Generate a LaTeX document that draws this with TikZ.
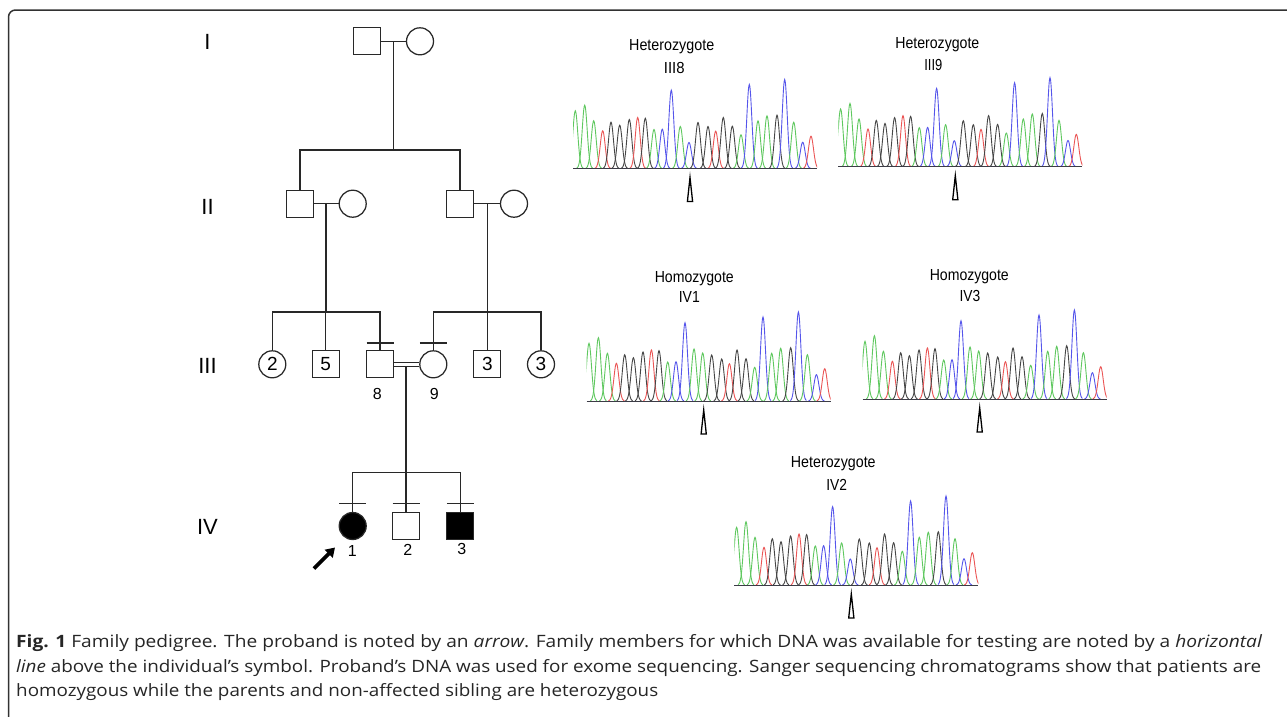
\documentclass[tikz,border=0pt]{standalone}
\usepackage{fontspec}
\usepackage{graphicx}
\setmainfont{Open Sans}
\newfontfamily\arialf{Liberation Sans}
\usetikzlibrary{arrows.meta,calc}
\definecolor{pedc}{RGB}{40,40,40}
\definecolor{framec}{RGB}{50,50,50}
\definecolor{cg}{RGB}{95,200,95}
\definecolor{cb}{RGB}{85,85,235}
\definecolor{cr}{RGB}{235,85,85}
\definecolor{ck}{RGB}{70,70,70}
\definecolor{basec}{RGB}{60,60,70}
\newsavebox\fitbox
\newcommand\hfit[2]{\sbox\fitbox{#2}\pgfmathsetmacro\fitfac{#1/\wd\fitbox}\scalebox{\fitfac}[1]{\usebox\fitbox}}
\newcommand\hetlist{2.3/57.7/cg, 11.7/63.3/cg, 20.7/47.7/cg, 29.7/37.7/cr, 38/46.3/ck, 46.7/43.3/ck, 56.3/49/ck, 64.7/51/cr, 72.3/50.3/ck, 81/39/cg, 89.3/39.3/cb, 98.3/78.3/cb, 107.3/42/cg, 116/26/cb, 125/46/ck, 135/42/ck, 142.7/37.3/cr, 150.3/51/ck, 159.3/42.3/ck, 168/33.7/cg, 176.3/84/cb, 185/47.7/cg, 194/52.7/cg, 204/53.3/ck, 211.7/89/cb, 220.7/46.3/cg, 229.7/26.3/cb, 238/32.3/cr}
\newcommand\homlist{2.3/57.7/cg, 11.7/63.3/cg, 20.7/47.7/cg, 29.7/37.7/cr, 38/46.3/ck, 46.7/43.3/ck, 56.3/49/ck, 64.7/51/cr, 72.3/50.3/ck, 81/39/cg, 89.3/39.3/cb, 98.3/78.3/cb, 107.3/52/cg, 116/48/cg, 125/46/ck, 135/42/ck, 142.7/37.3/cr, 150.3/51/ck, 159.3/42.3/ck, 168/33.7/cg, 176.3/84/cb, 185/47.7/cg, 194/52.7/cg, 204/53.3/ck, 211.7/89/cb, 220.7/46.3/cg, 229.7/26.3/cb, 238/32.3/cr}
% #1 left, #2 baseline, #3 list
\newcommand\chromdraw[3]{%
  \begin{scope}[shift={(#1,#2)}]
    \begin{scope}
      \clip (0,3) rectangle (244,-100);
      \foreach \px/\ph/\pc in #3 {%
        \pgfmathsetmacro\pa{\px-8}%
        \pgfmathsetmacro\pb{\px+8}%
        \draw[\pc, line width=0.9pt] plot[variable=\t, domain=\pa:\pb, samples=33, smooth]
          (\t, {-\ph*exp(-((\t-\px)^2)/(2*2.5*2.5))});
      }
    \end{scope}
    \draw[basec, line width=0.9pt] (0,0) -- (244,0);
    \draw[black, line width=1.3pt, line join=miter] (117,9) -- (114.4,33) -- (119.6,33) -- cycle;
  \end{scope}}
\begin{document}
\begin{tikzpicture}[x=1pt,y=-1pt,
  pedline/.style={draw=pedc, line width=1.25pt},
  male/.style={rectangle, draw=pedc, line width=1.25pt, minimum size=27pt, inner sep=0pt, font=\arialf\fontsize{19}{19}\selectfont},
  female/.style={circle, draw=pedc, line width=1.25pt, minimum size=27pt, inner sep=0pt, font=\arialf\fontsize{19}{19}\selectfont},
  genlab/.style={font=\arialf\fontsize{22}{22}\selectfont, text=black},
  numlab/.style={font=\arialf\fontsize{16}{16}\selectfont, text=black},
  chlab/.style={font=\arialf\fontsize{16}{16}\selectfont, text=black, inner sep=0pt},
  caplab/.style={anchor=base west, inner sep=0pt, font=\fontsize{17}{17}\selectfont, text=black!85}
]
\useasboundingbox (0,0) rectangle (1287,716);
\fill[white] (0,0) rectangle (1287,716);
% frame
\draw[framec, line width=1.5pt, rounded corners=7pt] (25,724) -- (8.5,724) -- (8.5,10) -- (1300,10);

% generation labels
\node[genlab] (gI) at (207.5,42.3) {I};
\node[genlab] (gII) at (207.5,206.7) {II};
\node[genlab] (gIII) at (207.5,365.7) {III};
\node[genlab] (gIV) at (207.5,526.7) {IV};

% Generation I
\node[male] (I1) at (366.7,41.3) {};
\node[female] (I2) at (420,41.3) {};
\draw[pedline] (I1.east) -- (I2.west);
\coordinate (m1) at (393.7,41.3);
\coordinate (s1) at (393.7,150);
\draw[pedline] (m1) -- (s1);

% Generation II
\node[male] (II1) at (300,203.7) {};
\node[female] (II2) at (352.7,203.7) {};
\node[male] (II3) at (460,203.7) {};
\node[female] (II4) at (514,203.7) {};
\draw[pedline] (II1.north) -- (II1.north |- s1) -- (II3.north |- s1) -- (II3.north);
\draw[pedline] (II1.east) -- (II2.west);
\draw[pedline] (II3.east) -- (II4.west);
\coordinate (m2) at (326,203.7);
\coordinate (s2) at (326,312);
\coordinate (m3) at (487.3,203.7);
\coordinate (s3) at (487.3,312);
\draw[pedline] (m2) -- (s2);
\draw[pedline] (m3) -- (s3);

% Generation III
\node[female] (III2) at (272.3,364.3) {2};
\node[male] (III5) at (325.7,364.3) {5};
\node[male] (III8) at (380,364.3) {};
\node[female] (III9) at (433.3,364.3) {};
\node[male] (III3a) at (487.3,364.3) {3};
\node[female] (III3b) at (541,364.3) {3};
\draw[pedline] (III2.north) -- (III2.north |- s2) -- (III8.north |- s2) -- (III8.north);
\draw[pedline] (III5.north) -- (III5.north |- s2);
\draw[pedline] (III9.north) -- (III9.north |- s3) -- (III3b.north |- s3) -- (III3b.north);
\draw[pedline] (III3a.north) -- (III3a.north |- s3);
\draw[pedline] ($(III8.north)+(-13.5,-7.3)$) -- ($(III8.north)+(13.5,-7.3)$);
\draw[pedline] ($(III9.north)+(-13.5,-7.3)$) -- ($(III9.north)+(13.5,-7.3)$);
\draw[pedline] ($(III8.east)+(0,-1.8)$) -- ($(III9.west)+(0,-1.8)$);
\draw[pedline] ($(III8.east)+(0,2.2)$) -- ($(III9.west)+(0,2.2)$);
\node[numlab] (l8) at (377.3,394) {8};
\node[numlab] (l9) at (434.3,394) {9};
\coordinate (m4) at (406,366);
\coordinate (s4) at (406,472.7);
\draw[pedline] (m4) -- (s4);

% Generation IV
\node[female, fill=black] (IV1) at (352.7,526) {};
\node[male] (IV2) at (406,526) {};
\node[male, fill=black] (IV3) at (460.3,526) {};
\draw[pedline] (IV1.north) -- (IV1.north |- s4) -- (IV3.north |- s4) -- (IV3.north);
\draw[pedline] (IV2.north) -- (IV2.north |- s4);
\foreach \n in {IV1,IV2,IV3}{
  \draw[pedline] ($(\n.north)+(-13.5,-8.7)$) -- ($(\n.north)+(13.5,-8.7)$);
}
\node[numlab] (l1) at (352.3,551) {1};
\node[numlab] (l2) at (407.7,550) {2};
\node[numlab] (l3) at (461.7,549) {3};
\coordinate (pa0) at (314,568.5);
\coordinate (pa1) at (335,547.5);
\draw[black, line width=3.6pt, -{Triangle[length=9pt,width=11pt]}] (pa0) -- (pa1);

% Chromatograms
\chromdraw{573}{168.5}{\hetlist}
\node[chlab] (h1) at (671.7,46.7) {\hfit{85pt}{Heterozygote}};
\node[chlab] (h1b) at (674.3,68.3) {\hfit{20.7pt}{III8}};

\chromdraw{838.3}{166.7}{\hetlist}
\node[chlab] (h2) at (937.3,45) {\hfit{84pt}{Heterozygote}};
\node[chlab] (h2b) at (933.3,65) {\hfit{18pt}{III9}};

\chromdraw{586.7}{401}{\homlist}
\node[chlab] (h3) at (694.3,278.3) {\hfit{79pt}{Homozygote}};
\node[chlab] (h3b) at (689.3,297.3) {\hfit{21pt}{IV1}};

\chromdraw{862.7}{399}{\homlist}
\node[chlab] (h4) at (969.3,276.7) {\hfit{79pt}{Homozygote}};
\node[chlab] (h4b) at (970,296) {\hfit{20.7pt}{IV3}};

\chromdraw{734.3}{585}{\hetlist}
\node[chlab] (h5) at (833.3,463.3) {\hfit{84.7pt}{Heterozygote}};
\node[chlab] (h5b) at (836.7,485) {\hfit{20.7pt}{IV2}};

% Caption
\node[caplab] (c1) at (16,647.5) {\hfit{1246}{\textbf{Fig. 1} Family pedigree. The proband is noted by an \textit{arrow}. Family members for which DNA was available for testing are noted by a \textit{horizontal}}};
\node[caplab] (c2) at (16,672) {\hfit{1245}{\textit{line} above the individual’s symbol. Proband’s DNA was used for exome sequencing. Sanger sequencing chromatograms show that patients are}};
\node[caplab] (c3) at (16,696.5) {\hfit{642}{homozygous while the parents and non-affected sibling are heterozygous}};
\end{tikzpicture}
\end{document}
